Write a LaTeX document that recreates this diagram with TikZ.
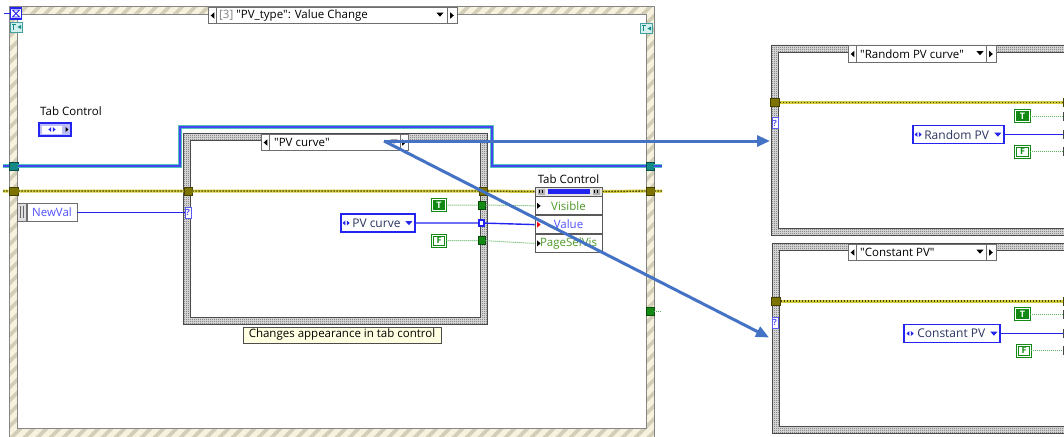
\documentclass[tikz,border=0pt]{standalone}
\usepackage{fontspec}
\setmainfont{Open Sans}
\usetikzlibrary{arrows.meta,positioning,patterns}
\definecolor{evbeige}{HTML}{F6F2DE}
\definecolor{evstripe}{HTML}{D3CEB8}
\definecolor{evedge}{HTML}{858585}
\definecolor{ckbase}{HTML}{E4E4E4}
\definecolor{ckdark}{HTML}{5A5A5A}
\definecolor{ckedge}{HTML}{4A4A4A}
\definecolor{lvblue}{HTML}{2424F0}
\definecolor{lvviolet}{HTML}{5050FF}
\definecolor{enumtext}{HTML}{2B3560}
\definecolor{refteal}{HTML}{4FC4BA}
\definecolor{tealtun}{HTML}{138A86}
\definecolor{erryellow}{HTML}{D2CB3C}
\definecolor{errdot}{HTML}{4A4600}
\definecolor{olivetun}{HTML}{7D7400}
\definecolor{boolgreen}{HTML}{138A13}
\definecolor{boolwire}{HTML}{5BB35B}
\definecolor{proptext}{HTML}{4E9A2A}
\definecolor{notearrow}{HTML}{4472C4}
\definecolor{tipfill}{HTML}{FFFFE1}
\definecolor{selgray}{HTML}{6E6E6E}

\newcommand\lvsmall{\fontsize{11.5}{13}\selectfont}
\newcommand\lvenum{\fontsize{12}{14}\selectfont}
\newcommand\dq{\textquotedbl}

\pgfdeclarepatternformonly{evstripes}{\pgfqpoint{-1pt}{-1pt}}{\pgfqpoint{14pt}{14pt}}{\pgfqpoint{13pt}{13pt}}{%
  \pgfsetlinewidth{3.6pt}%
  \pgfpathmoveto{\pgfqpoint{-1pt}{-1pt}}\pgfpathlineto{\pgfqpoint{14pt}{14pt}}\pgfusepath{stroke}}
\pgfdeclarepatternformonly{lvcheck}{\pgfqpoint{0pt}{0pt}}{\pgfqpoint{2pt}{2pt}}{\pgfqpoint{2pt}{2pt}}{%
  \pgfpathrectangle{\pgfqpoint{0pt}{0pt}}{\pgfqpoint{1pt}{1pt}}%
  \pgfpathrectangle{\pgfqpoint{1pt}{1pt}}{\pgfqpoint{1pt}{1pt}}\pgfusepath{fill}}

\tikzset{
  lvlbl/.style={font=\lvsmall, inner sep=0pt},
  tunnel/.style={draw=#1!55!black, fill=#1, line width=0.8pt, minimum width=8pt, minimum height=8pt, inner sep=0pt},
  selbox/.style={draw=selgray, fill=white, line width=0.8pt, minimum height=16.5pt, inner sep=0pt},
  selterm/.style={draw=lvblue!75, fill=white, line width=1pt, minimum width=6pt, minimum height=11pt, inner sep=0pt, font=\fontsize{8.5}{8.5}\selectfont\bfseries, text=lvblue!80},
  boolconst/.style={draw=boolgreen, line width=1pt, double=white, double distance=1pt, minimum width=13.5pt, minimum height=11pt, inner sep=0pt, font=\fontsize{9}{9}\selectfont\bfseries},
  tconst/.style={boolconst, fill=boolgreen, text=white},
  fconst/.style={boolconst, fill=white, text=boolgreen},
  enumconst/.style={draw=lvblue, line width=1.8pt, fill=white, minimum height=18pt, inner sep=0pt},
  enumtxt/.style={font=\lvenum, text=enumtext, inner sep=0pt},
  proprow/.style={draw=gray!70!black, fill=white, line width=0.8pt, minimum width=67pt, minimum height=18pt, inner sep=0pt},
  proplbl/.style={font=\lvsmall, inner sep=0pt},
  numwire/.style={draw=lvblue, line width=1.4pt},
  boolw/.style={draw=boolwire, line width=1pt, dash pattern=on 1pt off 1pt},
  errw/.style={preaction={draw=erryellow, line width=3pt, solid}, draw=errdot, line width=1.3pt, dash pattern=on 1.5pt off 1.5pt},
  refw/.style={preaction={draw=refteal, line width=4.6pt}, draw=lvblue!85!white, line width=1.2pt},
  note/.style={draw=notearrow, line width=3pt, -{Triangle[length=13pt,width=11pt]}},
  tleft/.pic={\fill (1.8,-3.2) -- (-1.8,0) -- (1.8,3.2) -- cycle;},
  tright/.pic={\fill (-1.8,-3.2) -- (1.8,0) -- (-1.8,3.2) -- cycle;},
  ddown/.pic={\fill (-3.5,-1.8) -- (3.5,-1.8) -- (0,2.2) -- cycle;},
  ringarrows/.pic={\fill (-3.6,0) -- (-0.8,-2.4) -- (-0.8,2.4) -- cycle; \fill (3.6,0) -- (0.8,-2.4) -- (0.8,2.4) -- cycle;}
}

\begin{document}
\begin{tikzpicture}[x=1pt,y=-1pt]
  \useasboundingbox (0,0) rectangle (1064,436);
  \clip (0,0) rectangle (1064,436);
  \fill[white] (0,0) rectangle (1064,436);

  % event structure frame
  \fill[evbeige, even odd rule] (9,7) rectangle (654,440) (17,15) rectangle (646,428);
  \fill[pattern=evstripes, pattern color=evstripe, even odd rule] (9,7) rectangle (654,440) (17,15) rectangle (646,428);
  \draw[evedge, line width=1pt] (9,7) rectangle (654,440) (17,15) rectangle (646,428);

  % case structure frames
  \foreach \xa/\ya/\xb/\yb in {183/133/487/324, 771/45/1072/235, 772/243/1072/433} {
    \fill[ckbase, even odd rule] (\xa,\ya) rectangle (\xb,\yb) (\xa+7,\ya+7) rectangle (\xb-7,\yb-7);
    \fill[pattern=lvcheck, pattern color=ckdark, even odd rule] (\xa,\ya) rectangle (\xb,\yb) (\xa+7,\ya+7) rectangle (\xb-7,\yb-7);
    \draw[ckedge, line width=0.9pt] (\xa,\ya) rectangle (\xb,\yb) (\xa+7,\ya+7) rectangle (\xb-7,\yb-7);
  }

  % event selector and icons
  \node[selbox, minimum width=249pt] (evsel) at (332.5,15.5) {};
  \draw[selgray, line width=0.8pt] (evsel.north west) ++(9,0) -- ++(0,16.5) (evsel.north east) ++(-10,0) -- ++(0,16.5);
  \pic[color=black] at (212.5,15.5) {tleft};
  \pic[color=black] at (452,15.5) {tright};
  \pic[color=black] at (440,14.5) {ddown};
  \node[lvlbl, anchor=west] (evtxt) at (219,15.5) {\textcolor{gray}{[3]} \dq PV\_type\dq: Value Change};

  \node[draw=lvblue, line width=1.2pt, fill=white, minimum size=11pt, inner sep=0pt] (tmout) at (16,13.5) {};
  \draw[lvblue, line width=0.8pt] (12.5,10) -- (19.5,10) -- (12.5,17) -- (19.5,17) -- cycle;
  \coordinate (tmin) at (4,13.5);
  \draw[lvblue, line width=1pt] (tmin) -- (tmout.west);
  \foreach \nm/\px/\py in {evdataL/16.5/27, evdataR/646.5/28.5} {
    \node[draw=tealtun!80, fill=refteal!25, line width=0.6pt, minimum width=12.5pt, minimum height=10pt, inner sep=0pt] (\nm) at (\px,\py) {};
    \draw[tealtun, line width=0.8pt] (\px-4.5,\py-3) -- (\px-1,\py-3) (\px-2.75,\py-3) -- (\px-2.75,\py+3);
    \fill[tealtun] (\px+1,\py) -- (\px+4.5,\py-2) -- (\px+4.5,\py+2) -- cycle;
  }

  % tab control terminal
  \node[lvlbl, anchor=west] (tclbl) at (40,111) {Tab Control};
  \node[draw=lvblue, line width=2pt, fill=lvblue!30, minimum width=32pt, minimum height=13pt, inner sep=0pt] (tcterm) at (55,129.5) {};
  \fill[white] (42,125.5) rectangle (62,133.5);
  \pic[color=lvblue] at (52,129.5) {ringarrows};
  \pic[color=black, scale=0.8] at (67,129.5) {tright};

  % refnum and error wires through the event frame
  \node[tunnel=tealtun, minimum width=9pt] (rfL) at (13.5,166) {};
  \node[tunnel=tealtun] (rfR) at (650,166) {};
  \coordinate (rfin) at (3,166);
  \coordinate (rfout) at (662,166);
  \draw[refw] (rfin) -- (rfL.west) (rfL.east) -| (180,127) -| (492,166) -- (rfR.west) (rfR.east) -- (rfout);

  \node[tunnel=olivetun, minimum width=9pt] (erL) at (13.5,191) {};
  \node[tunnel=olivetun] (erI) at (188,191) {};
  \node[tunnel=olivetun] (erO) at (483.5,191) {};
  \node[tunnel=olivetun] (erR) at (650,191) {};
  \coordinate (errin) at (3,191);
  \coordinate (errout) at (662,191);

  % inner case
  \node[selbox, minimum width=147pt] (pvsel) at (334.5,142.5) {};
  \draw[selgray, line width=0.8pt] (pvsel.north west) ++(9,0) -- ++(0,16.5) (pvsel.north east) ++(-8,0) -- ++(0,16.5);
  \pic[color=black] at (265.5,142.5) {tleft};
  \pic[color=black] at (404,142.5) {tright};
  \pic[color=black] at (394,141.5) {ddown};
  \node[lvlbl, anchor=west] (pvseltxt) at (274,142.5) {\dq PV curve\dq};

  \node[selterm] (pvq) at (188,212.5) {?};
  \node[draw=selgray, fill=white, line width=0.8pt, minimum width=50pt, minimum height=18pt, inner sep=0pt, font=\lvsmall, text=lvviolet] (newval) at (52,212.5) {NewVal};
  \node[draw=selgray, fill=gray!25, line width=0.8pt, minimum width=9pt, minimum height=18pt, inner sep=0pt, left=0pt of newval] (newbar) {};
  \draw[gray!80!black, line width=0.9pt] (newbar.north) ++(-1.5,3) -- ++(0,12) ++(3,-12) -- ++(0,12);
  \draw[lvblue, line width=1pt] (newval.east) -- (pvq.west);

  \node[tconst] (pvT) at (439,205) {T};
  \node[fconst] (pvF) at (439,240.5) {F};
  \node[enumconst, minimum width=74pt] (pvenum) at (378,223) {};
  \node[enumtxt, right=12pt of pvenum.west] (pvenumtxt) {PV curve};
  \pic[color=lvblue] at ([xshift=6pt]pvenum.west) {ringarrows};
  \pic[color=lvblue] at ([xshift=-7pt]pvenum.east) {ddown};

  \node[tunnel=boolgreen, minimum width=7pt] (pvtT) at (481.5,205) {};
  \node[draw=lvblue, fill=white, line width=1.8pt, minimum size=5.5pt, inner sep=0pt] (pvtE) at (481.5,223) {};
  \node[tunnel=boolgreen, minimum width=7pt] (pvtF) at (481.5,240.5) {};

  \node[draw=gray!60!black, fill=tipfill, line width=0.8pt, minimum width=198pt, minimum height=16pt, inner sep=0pt, font=\lvsmall] (tip) at (342,335) {Changes appearance in tab control};

  % property node
  \node[lvlbl] (tclbl2) at (568.5,179) {Tab Control};
  \node[draw=gray!70!black, fill=gray!20, line width=0.8pt, minimum width=67pt, minimum height=9pt, inner sep=0pt] (tchead) at (568.5,191.5) {};
  \fill[lvblue] (548,189) rectangle (590,194);
  \foreach \hx in {541,596} {
    \fill[gray!60] (\hx-3.5,188.5) rectangle (\hx+3.5,194.5);
    \draw[black, line width=0.6pt] (\hx-2,190) -- (\hx-2,193) (\hx+1,190) -- (\hx+1,193);
  }
  \node[proprow, below=0pt of tchead] (rvis) {};
  \node[proprow, below=0pt of rvis] (rval) {};
  \node[proprow, below=0pt of rval] (rpage) {};
  \node[proplbl, text=proptext] (tvis) at (rvis) {Visible};
  \node[proplbl, text=lvviolet] (tval) at (rval) {Value};
  \node[proplbl, text=proptext] (tpage) at (rpage) {PageSelVis};
  \foreach \r/\c in {rvis/black, rval/red, rpage/black}
    \fill[\c] (\r.west) ++(2.5,-3) -- ++(3.5,3) -- ++(-3.5,3) -- cycle;

  \node[tunnel=boolgreen] (gR) at (650,311) {};
  \coordinate (gout) at (662,311);

  % wires of the Value Change case
  \draw[errw] (errin) -- (erL) -- (erI) -- (erO) -- (tchead.west) (tchead.east) -- (erR) -- (errout);
  \draw[boolw] (pvT) -- (pvtT) -- (rvis.west);
  \draw[numwire] (pvenum) -- (pvtE) -- (rval.west);
  \draw[boolw] (pvF) -- (pvtF) -- (rpage.west);
  \draw[boolw] (gR) -- (gout);

  % Random PV curve case
  \node[selbox, minimum width=148pt] (rsel) at (922,54) {};
  \draw[selgray, line width=0.8pt] (rsel.north west) ++(9,0) -- ++(0,16.5) (rsel.north east) ++(-10,0) -- ++(0,16.5);
  \pic[color=black] at (852.5,54) {tleft};
  \pic[color=black] at (991,54) {tright};
  \pic[color=black] at (980,53) {ddown};
  \node[lvlbl, anchor=west] (rseltxt) at (860,54) {\dq Random PV curve\dq};
  \node[tunnel=olivetun, minimum width=9pt] (reL) at (775,102.5) {};
  \node[tunnel=olivetun] (reR) at (1067,102.5) {};
  \node[selterm] (rq) at (775,123) {?};
  \node[tconst] (rT) at (1022.5,116) {T};
  \node[enumconst, minimum width=91pt] (renum) at (958.5,134.5) {};
  \node[enumtxt, right=12pt of renum.west] (renumtxt) {Random PV};
  \pic[color=lvblue] at ([xshift=6pt]renum.west) {ringarrows};
  \pic[color=lvblue] at ([xshift=-7pt]renum.east) {ddown};
  \node[fconst] (rF) at (1022.5,151.5) {F};
  \node[tunnel=gray] (rtT) at (1067,116) {};
  \node[tunnel=gray] (rtE) at (1067,134.5) {};
  \node[tunnel=gray] (rtF) at (1067,151.5) {};
  \draw[errw] (reL) -- (reR);
  \draw[boolw] (rT) -- (rtT);
  \draw[numwire] (renum) -- (rtE);
  \draw[boolw] (rF) -- (rtF);

  % Constant PV case
  \node[selbox, minimum width=148pt] (csel) at (922,252.5) {};
  \draw[selgray, line width=0.8pt] (csel.north west) ++(9,0) -- ++(0,16.5) (csel.north east) ++(-10,0) -- ++(0,16.5);
  \pic[color=black] at (852.5,252.5) {tleft};
  \pic[color=black] at (991,252.5) {tright};
  \pic[color=black] at (980,251.5) {ddown};
  \node[lvlbl, anchor=west] (cseltxt) at (860,252.5) {\dq Constant PV\dq};
  \node[tunnel=olivetun, minimum width=9pt] (ceL) at (776,301) {};
  \node[tunnel=olivetun] (ceR) at (1067,301) {};
  \node[selterm] (cq) at (775,322.5) {?};
  \node[tconst] (cT) at (1022.5,314) {T};
  \node[enumconst, minimum width=96pt] (cenum) at (952,333.5) {};
  \node[enumtxt, right=14pt of cenum.west] (cenumtxt) {Constant PV};
  \pic[color=lvblue] at ([xshift=7pt]cenum.west) {ringarrows};
  \pic[color=lvblue] at ([xshift=-7pt]cenum.east) {ddown};
  \node[fconst] (cF) at (1024,350.5) {F};
  \node[tunnel=gray] (ctT) at (1067,314) {};
  \node[tunnel=gray] (ctE) at (1067,333.5) {};
  \node[tunnel=gray] (ctF) at (1067,350.5) {};
  \draw[errw] (ceL) -- (ceR);
  \draw[boolw] (cT) -- (ctT);
  \draw[numwire] (cenum) -- (ctE);
  \draw[boolw] (cF) -- (ctF);

  % annotation arrows
  \coordinate (pvsrc) at (384,141);
  \coordinate (rin) at (770,141);
  \coordinate (cin) at (769,337.5);
  \draw[note] (pvsrc) -- (rin);
  \draw[note] (pvsrc) -- (cin);
\end{tikzpicture}
\end{document}
